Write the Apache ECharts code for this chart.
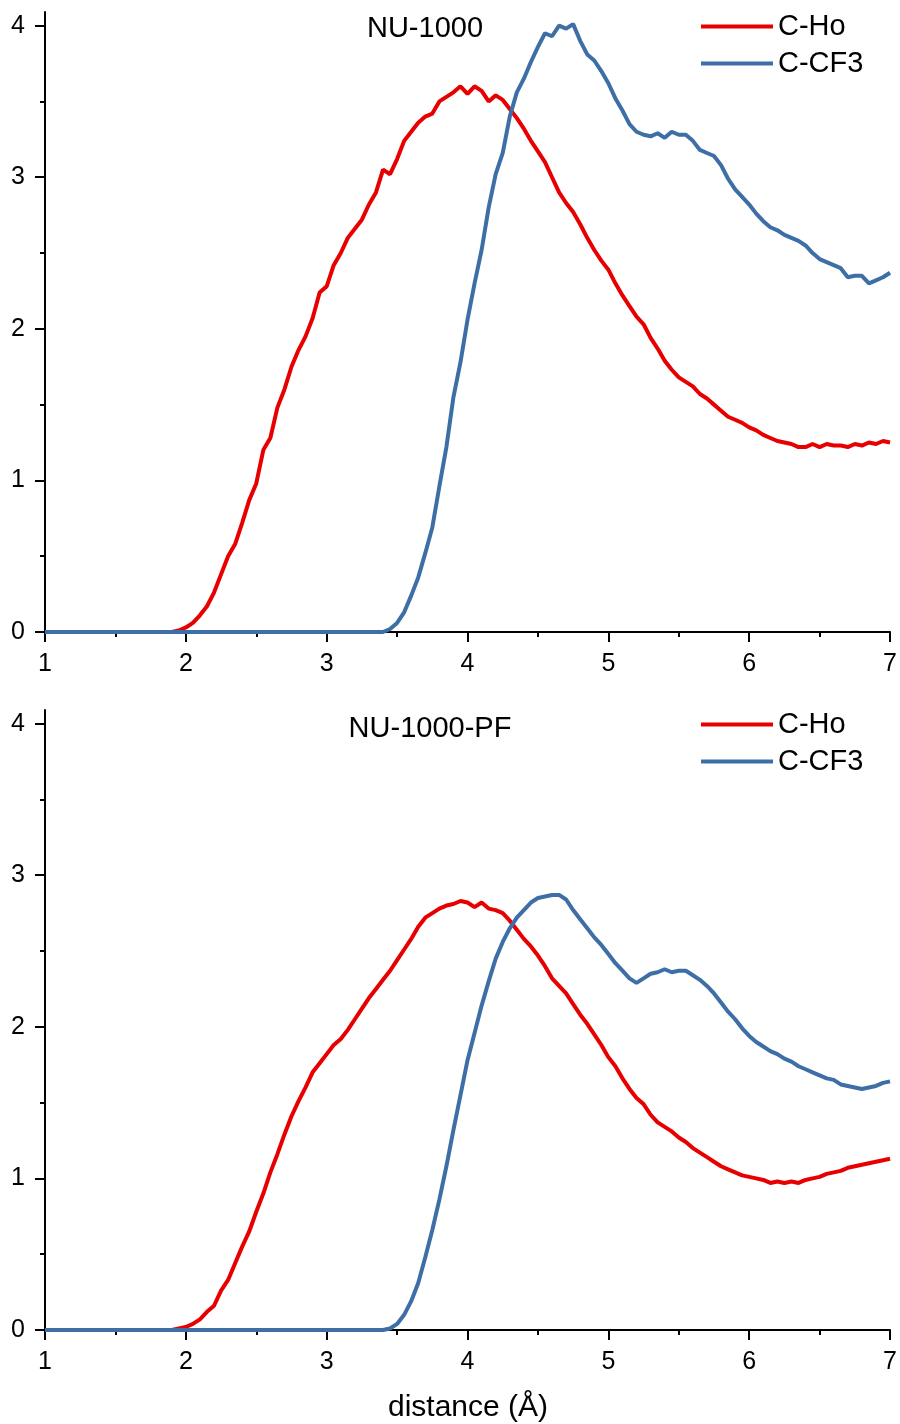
<!DOCTYPE html>
<html>
<head>
<meta charset="utf-8">
<script src="https://cdn.jsdelivr.net/npm/echarts@6/dist/echarts.min.js"></script>
<style>html,body{margin:0;padding:0;background:#fff}#c{width:900px;height:1424px}</style>
</head>
<body>
<div id="c"></div>
<script>
// ---- data (x = distance in Å, y = value) ----
const seriesNames = ['C-Ho', 'C-CF3'];
const panelTitles = ['NU-1000', 'NU-1000-PF'];
const xTicks = [1, 2, 3, 4, 5, 6, 7];
const yTicks = [0, 1, 2, 3, 4];
const yMinorTicks = [0.5, 1.5, 2.5, 3.5];

const topHo = [[1,0],[1.85,0],[1.9,0],[1.95,0.01],[2.0,0.03],[2.05,0.06],[2.1,0.11],[2.15,0.17],[2.2,0.26],[2.25,0.38],[2.3,0.5],[2.35,0.58],[2.4,0.72],[2.45,0.87],[2.5,0.98],[2.55,1.2],[2.6,1.28],[2.65,1.48],[2.7,1.6],[2.75,1.75],[2.8,1.86],[2.85,1.95],[2.9,2.07],[2.95,2.24],[3.0,2.28],[3.05,2.42],[3.1,2.5],[3.15,2.6],[3.2,2.66],[3.25,2.72],[3.3,2.82],[3.35,2.9],[3.4,3.05],[3.45,3.02],[3.5,3.12],[3.55,3.24],[3.6,3.3],[3.65,3.36],[3.7,3.4],[3.75,3.42],[3.8,3.5],[3.85,3.53],[3.9,3.56],[3.95,3.6],[4.0,3.55],[4.05,3.6],[4.1,3.57],[4.15,3.5],[4.2,3.54],[4.25,3.51],[4.3,3.45],[4.35,3.39],[4.4,3.32],[4.45,3.24],[4.5,3.17],[4.55,3.1],[4.6,3.0],[4.65,2.9],[4.7,2.83],[4.75,2.77],[4.8,2.69],[4.85,2.6],[4.9,2.52],[4.95,2.45],[5.0,2.39],[5.05,2.3],[5.1,2.22],[5.15,2.15],[5.2,2.08],[5.25,2.03],[5.3,1.94],[5.35,1.87],[5.4,1.79],[5.45,1.73],[5.5,1.68],[5.55,1.65],[5.6,1.62],[5.65,1.57],[5.7,1.54],[5.75,1.5],[5.8,1.46],[5.85,1.42],[5.9,1.4],[5.95,1.38],[6.0,1.35],[6.05,1.33],[6.1,1.3],[6.15,1.28],[6.2,1.26],[6.25,1.25],[6.3,1.24],[6.35,1.22],[6.4,1.22],[6.45,1.24],[6.5,1.22],[6.55,1.24],[6.6,1.23],[6.65,1.23],[6.7,1.22],[6.75,1.24],[6.8,1.23],[6.85,1.25],[6.9,1.24],[6.95,1.26],[7.0,1.25]];

const topCF3 = [[1,0],[3.35,0],[3.4,0],[3.45,0.02],[3.5,0.06],[3.55,0.13],[3.6,0.24],[3.65,0.36],[3.7,0.52],[3.75,0.69],[3.8,0.96],[3.85,1.22],[3.9,1.55],[3.95,1.78],[4.0,2.06],[4.05,2.3],[4.1,2.52],[4.15,2.8],[4.2,3.02],[4.25,3.16],[4.3,3.4],[4.35,3.56],[4.4,3.65],[4.45,3.76],[4.5,3.86],[4.55,3.95],[4.6,3.93],[4.65,4.0],[4.7,3.98],[4.75,4.01],[4.8,3.9],[4.85,3.81],[4.9,3.77],[4.95,3.7],[5.0,3.62],[5.05,3.52],[5.1,3.44],[5.15,3.35],[5.2,3.3],[5.25,3.28],[5.3,3.27],[5.35,3.29],[5.4,3.26],[5.45,3.3],[5.5,3.28],[5.55,3.28],[5.6,3.24],[5.65,3.18],[5.7,3.16],[5.75,3.14],[5.8,3.08],[5.85,2.99],[5.9,2.92],[5.95,2.87],[6.0,2.82],[6.05,2.76],[6.1,2.71],[6.15,2.67],[6.2,2.65],[6.25,2.62],[6.3,2.6],[6.35,2.58],[6.4,2.55],[6.45,2.5],[6.5,2.46],[6.55,2.44],[6.6,2.42],[6.65,2.4],[6.7,2.34],[6.75,2.35],[6.8,2.35],[6.85,2.3],[6.9,2.32],[6.95,2.34],[7.0,2.37]];

const botHo = [[1,0],[1.85,0],[1.9,0],[1.95,0.01],[2.0,0.02],[2.05,0.04],[2.1,0.07],[2.15,0.12],[2.2,0.16],[2.25,0.26],[2.3,0.33],[2.35,0.44],[2.4,0.55],[2.45,0.65],[2.5,0.78],[2.55,0.9],[2.6,1.04],[2.65,1.16],[2.7,1.29],[2.75,1.41],[2.8,1.51],[2.85,1.6],[2.9,1.7],[2.95,1.76],[3.0,1.82],[3.05,1.88],[3.1,1.92],[3.15,1.98],[3.2,2.05],[3.25,2.12],[3.3,2.19],[3.35,2.25],[3.4,2.31],[3.45,2.37],[3.5,2.44],[3.55,2.51],[3.6,2.58],[3.65,2.66],[3.7,2.72],[3.75,2.75],[3.8,2.78],[3.85,2.8],[3.9,2.81],[3.95,2.83],[4.0,2.82],[4.05,2.79],[4.1,2.82],[4.15,2.78],[4.2,2.77],[4.25,2.75],[4.3,2.7],[4.35,2.64],[4.4,2.58],[4.45,2.53],[4.5,2.47],[4.55,2.4],[4.6,2.32],[4.65,2.27],[4.7,2.22],[4.75,2.15],[4.8,2.08],[4.85,2.02],[4.9,1.95],[4.95,1.88],[5.0,1.8],[5.05,1.74],[5.1,1.66],[5.15,1.59],[5.2,1.53],[5.25,1.49],[5.3,1.42],[5.35,1.37],[5.4,1.34],[5.45,1.31],[5.5,1.27],[5.55,1.24],[5.6,1.2],[5.65,1.17],[5.7,1.14],[5.75,1.11],[5.8,1.08],[5.85,1.06],[5.9,1.04],[5.95,1.02],[6.0,1.01],[6.05,1.0],[6.1,0.99],[6.15,0.97],[6.2,0.98],[6.25,0.97],[6.3,0.98],[6.35,0.97],[6.4,0.99],[6.45,1.0],[6.5,1.01],[6.55,1.03],[6.6,1.04],[6.65,1.05],[6.7,1.07],[6.75,1.08],[6.8,1.09],[6.85,1.1],[6.9,1.11],[6.95,1.12],[7.0,1.13]];

const botCF3 = [[1,0],[3.35,0],[3.4,0],[3.45,0.01],[3.5,0.04],[3.55,0.1],[3.6,0.19],[3.65,0.31],[3.7,0.48],[3.75,0.66],[3.8,0.86],[3.85,1.08],[3.9,1.32],[3.95,1.55],[4.0,1.78],[4.05,1.96],[4.1,2.14],[4.15,2.3],[4.2,2.45],[4.25,2.56],[4.3,2.65],[4.35,2.72],[4.4,2.77],[4.45,2.82],[4.5,2.85],[4.55,2.86],[4.6,2.87],[4.65,2.87],[4.7,2.84],[4.75,2.77],[4.8,2.71],[4.85,2.65],[4.9,2.59],[4.95,2.54],[5.0,2.48],[5.05,2.42],[5.1,2.37],[5.15,2.32],[5.2,2.29],[5.25,2.32],[5.3,2.35],[5.35,2.36],[5.4,2.38],[5.45,2.36],[5.5,2.37],[5.55,2.37],[5.6,2.34],[5.65,2.31],[5.7,2.27],[5.75,2.22],[5.8,2.16],[5.85,2.1],[5.9,2.05],[5.95,1.99],[6.0,1.94],[6.05,1.9],[6.1,1.87],[6.15,1.84],[6.2,1.82],[6.25,1.79],[6.3,1.77],[6.35,1.74],[6.4,1.72],[6.45,1.7],[6.5,1.68],[6.55,1.66],[6.6,1.65],[6.65,1.62],[6.7,1.61],[6.75,1.6],[6.8,1.59],[6.85,1.6],[6.9,1.61],[6.95,1.63],[7.0,1.64]];

// ---- styling ----
const FONT = '"Liberation Sans", Arial, sans-serif';
const RED = '#e80000';
const BLUE = '#3d6fa6';
const panels = [[topHo, topCF3], [botHo, botCF3]];
const gridTops = [12, 710];
const GRID_H = 620;
const Y_MAX = 4.09;

const chart = echarts.init(document.getElementById('c'), null, {renderer: 'canvas'});

const grids = [], xAxes = [], yAxes = [], series = [], legends = [], graphics = [];
gridTops.forEach((top, i) => {
  grids.push({left: 45, width: 847, top: top, height: GRID_H});
  xAxes.push({
    type: 'value', gridIndex: i, min: xTicks[0], max: xTicks[xTicks.length - 1], interval: 1,
    axisLine: {show: true, onZero: false, lineStyle: {color: '#000', width: 2}},
    axisTick: {show: true, length: 10, lineStyle: {color: '#000', width: 2}},
    minorTick: {show: true, splitNumber: 2, length: 5, lineStyle: {color: '#000', width: 2}},
    axisLabel: {fontSize: 25, color: '#000', fontFamily: FONT, margin: 20},
    splitLine: {show: false}
  });
  yAxes.push({
    type: 'value', gridIndex: i, position: 'left', min: 0, max: Y_MAX,
    axisLine: {show: true, lineStyle: {color: '#000', width: 2}},
    axisTick: {show: true, length: 10, customValues: yTicks, lineStyle: {color: '#000', width: 2}},
    axisLabel: {customValues: yTicks, fontSize: 25, color: '#000', fontFamily: FONT, margin: 20},
    splitLine: {show: false}
  });
  yAxes.push({
    type: 'value', gridIndex: i, position: 'left', offset: 0, min: 0, max: Y_MAX,
    axisLine: {show: false},
    axisTick: {show: true, length: 5, customValues: yMinorTicks, lineStyle: {color: '#000', width: 2}},
    axisLabel: {show: false},
    splitLine: {show: false}
  });
  const [ho, cf3] = panels[i];
  series.push({name: seriesNames[0], type: 'line', xAxisIndex: i, yAxisIndex: 2 * i, data: ho,
    showSymbol: false, symbol: 'none', lineStyle: {color: RED, width: 4}, itemStyle: {color: RED}, z: 3});
  series.push({name: seriesNames[1], type: 'line', xAxisIndex: i, yAxisIndex: 2 * i, data: cf3,
    showSymbol: false, symbol: 'none', lineStyle: {color: BLUE, width: 4}, itemStyle: {color: BLUE}, z: 4});
  legends.push({
    orient: 'vertical', left: 696, top: (i === 0 ? 7 : 705), itemWidth: 72, itemHeight: 4, itemGap: 8,
    icon: 'rect', data: seriesNames,
    textStyle: {fontSize: 29, color: '#000', fontFamily: FONT}
  });
  graphics.push({
    type: 'text', x: (i === 0 ? 425 : 430), y: (i === 0 ? 29 : 729),
    style: {text: panelTitles[i], fontSize: 29, fill: '#000', fontFamily: FONT, textAlign: 'center', textVerticalAlign: 'middle'}
  });
});
graphics.push({
  type: 'text', x: 468, y: 1408,
  style: {text: 'distance (Å)', fontSize: 30, fill: '#000', fontFamily: FONT, textAlign: 'center', textVerticalAlign: 'middle'}
});

chart.setOption({
  animation: false,
  backgroundColor: '#fff',
  grid: grids, xAxis: xAxes, yAxis: yAxes, series: series, legend: legends, graphic: graphics
});
</script>
</body>
</html>
